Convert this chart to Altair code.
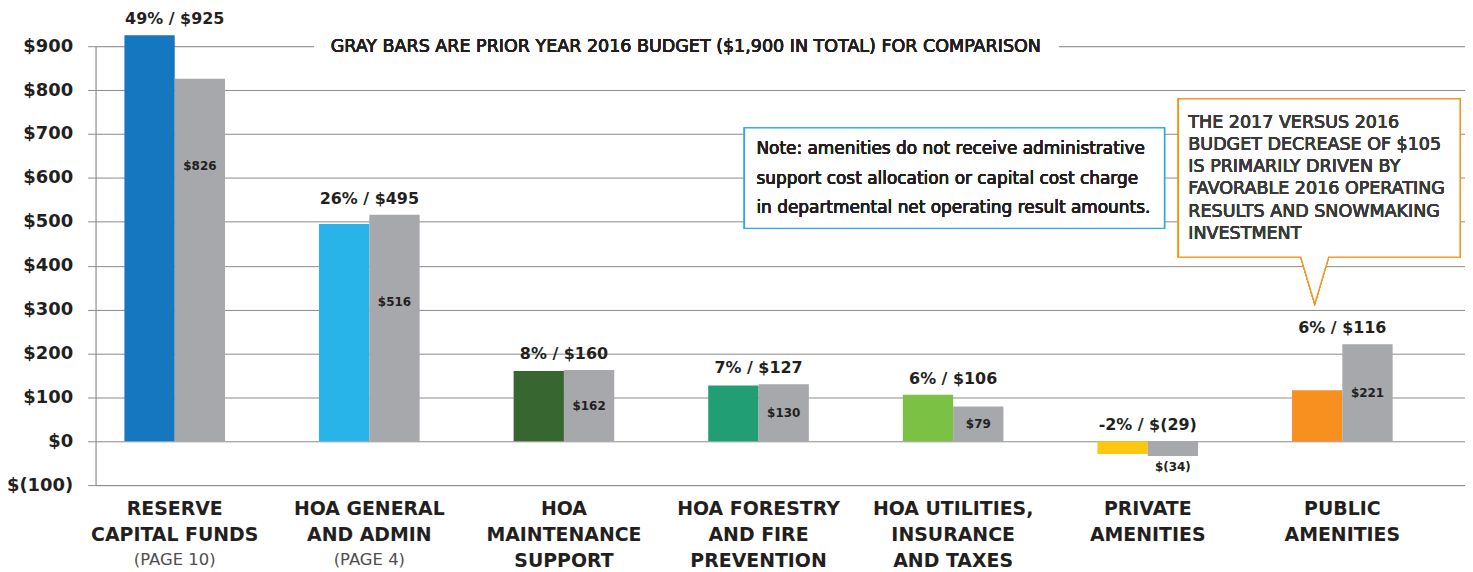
import altair as alt
import pandas as pd

# ---------------- data ----------------
categories = [
    "RESERVE\nCAPITAL FUNDS",
    "HOA GENERAL\nAND ADMIN",
    "HOA\nMAINTENANCE\nSUPPORT",
    "HOA FORESTRY\nAND FIRE\nPREVENTION",
    "HOA UTILITIES,\nINSURANCE\nAND TAXES",
    "PRIVATE\nAMENITIES",
    "PUBLIC\nAMENITIES",
]
page_refs = ["(PAGE 10)", "(PAGE 4)", "", "", "", "", ""]
budget_2017 = [925, 495, 160, 127, 106, -29, 116]
budget_2016 = [826, 516, 162, 130, 79, -34, 221]
share_2017 = [49, 26, 8, 7, 6, -2, 6]
colors_2017 = ["#1477bf", "#29b4e9", "#386630", "#229e74", "#7bc143", "#fdc70f", "#f7901e"]
color_2016 = "#a7a8ac"
y_ticks = list(range(-100, 1000, 100))

gray_note = "GRAY BARS ARE PRIOR YEAR 2016 BUDGET ($1,900 IN TOTAL) FOR COMPARISON"
note_lines = [
    "Note: amenities do not receive administrative",
    "support cost allocation or capital cost charge",
    "in departmental net operating result amounts.",
]
callout_lines = [
    "THE 2017 VERSUS 2016",
    "BUDGET DECREASE OF $105",
    "IS PRIMARILY DRIVEN BY",
    "FAVORABLE 2016 OPERATING",
    "RESULTS AND SNOWMAKING",
    "INVESTMENT",
]


def money(v):
    return f"${v}" if v >= 0 else f"$({-v})"


rows = []
for c, a, b, col in zip(categories, budget_2017, budget_2016, colors_2017):
    rows.append({"cat": c, "series": "2017", "value": a, "color": col})
    rows.append({"cat": c, "series": "2016", "value": b, "color": color_2016})
bars_df = pd.DataFrame(rows)

top_df = pd.DataFrame({
    "cat": categories,
    "label": [f"{s}% / {money(v)}" for s, v in zip(share_2017, budget_2017)],
    "top": [max(a, b, 0) for a, b in zip(budget_2017, budget_2016)],
    "ref": page_refs,
})
gray_df = pd.DataFrame({
    "cat": categories,
    "series": ["2016"] * len(categories),
    "value": budget_2016,
    "label": [money(v) for v in budget_2016],
})

INK = "#231f20"
GRID = "#8a8a8a"
BOLD_FONT = "DejaVu Sans"
BODY_FONT = "DejaVu Sans"
BODY_WEIGHT = "normal"

x_enc = alt.X(
    "cat:N",
    sort=categories,
    scale=alt.Scale(paddingInner=0.483, paddingOuter=0.26, align=0.285),
    axis=alt.Axis(
        title=None,
        labelExpr="split(datum.label, '\\n')",
        labelFont=BOLD_FONT,
        labelFontWeight="bold",
        labelFontSize=19,
        labelColor=INK,
        labelAngle=0,
        labelBaseline="alphabetic",
        labelLineHeight=26,
        labelPadding=30,
        labelLimit=400,
        labelOverlap=False,
        ticks=False,
        tickSize=0,
        domainColor=GRID,
        grid=False,
    ),
)
y_scale = alt.Scale(domain=[-100, 900], nice=False, zero=False)
xoff = alt.XOffset("series:N", sort=["2017", "2016"])

bars = alt.Chart(bars_df).mark_bar().encode(
    x=x_enc,
    xOffset=xoff,
    y=alt.Y(
        "value:Q",
        scale=y_scale,
        axis=alt.Axis(
            title=None,
            values=y_ticks,
            labelExpr="datum.value < 0 ? '$(' + abs(datum.value) + ')' : '$' + datum.value",
            labelFont=BOLD_FONT,
            labelFontWeight="bold",
            labelFontSize=18,
            labelColor=INK,
            labelPadding=15,
            tickSize=8,
            tickColor=GRID,
            domainColor=GRID,
            grid=True,
            gridColor=GRID,
            gridOpacity=1,
        ),
    ),
    y2=alt.datum(0),
    color=alt.Color("color:N", scale=None),
)

gray_labels = alt.Chart(gray_df).transform_calculate(
    pos="datum.value < 0 ? datum.value - 25 : max(datum.value / 2, datum.value - 200)"
).mark_text(font=BOLD_FONT, fontWeight="bold", fontSize=12, color=INK, baseline="middle").encode(
    x=alt.X("cat:N", sort=categories),
    xOffset=xoff,
    y=alt.Y("pos:Q", scale=y_scale),
    text="label:N",
)

top_labels = alt.Chart(top_df).mark_text(
    font=BOLD_FONT, fontWeight="bold", fontSize=16, color=INK, baseline="alphabetic", dy=-11
).encode(
    x=alt.X("cat:N", sort=categories),
    y=alt.Y("top:Q", scale=y_scale),
    text="label:N",
)

page_labels = alt.Chart(top_df).mark_text(
    font=BODY_FONT, fontWeight=BODY_WEIGHT, fontSize=16.5, color="#4d4d4f", baseline="alphabetic"
).encode(
    x=alt.X("cat:N", sort=categories),
    y=alt.value(521),
    text="ref:N",
)

# ---------------- annotations ----------------
gray_bg = alt.Chart(top_df).mark_rect(fill="white").encode(
    x=alt.value(220), x2=alt.value(968), y=alt.value(-9), y2=alt.value(9)
)
gray_text = alt.Chart(top_df).mark_text(
    text=gray_note, font=BODY_FONT, fontWeight=BODY_WEIGHT, fontSize=17.6, color=INK,
    align="center", baseline="middle", dy=1
).encode(x=alt.value(593), y=alt.value(0))

note_box = alt.Chart(top_df).mark_rect(fill="white", stroke="#29abe2", strokeWidth=1.3).encode(
    x=alt.value(652), x2=alt.value(1074), y=alt.value(82), y2=alt.value(183)
)
note_text = alt.Chart(top_df).mark_text(
    text=note_lines, font=BODY_FONT, fontWeight=BODY_WEIGHT, fontSize=17, color=INK, align="left",
    baseline="alphabetic", lineHeight=30
).encode(x=alt.value(664), y=alt.value(108))

call_box = alt.Chart(top_df).mark_rect(fill="white", stroke="#f7941d", strokeWidth=1.3).encode(
    x=alt.value(1088), x2=alt.value(1371), y=alt.value(53), y2=alt.value(212)
)
call_gap = alt.Chart(top_df).mark_rule(color="white", strokeWidth=3).encode(
    x=alt.value(1212), x2=alt.value(1238), y=alt.value(212), y2=alt.value(212)
)
call_pointer = alt.Chart(top_df).mark_point(
    shape="M -0.298 0 L 0 1 L 0.298 0", size=8836, filled=True, fill="white",
    stroke="#f7941d", strokeWidth=1.3, opacity=1
).encode(x=alt.value(1225), y=alt.value(212))
call_text = alt.Chart(top_df).mark_text(
    text=callout_lines, font=BODY_FONT, fontWeight=BODY_WEIGHT, fontSize=17.6, color="#3a3a3a",
    align="left", baseline="alphabetic", lineHeight=22.3
).encode(x=alt.value(1098), y=alt.value(82))

chart = alt.layer(
    bars, gray_labels, top_labels, page_labels,
    gray_bg, gray_text, note_box, note_text,
    call_box, call_gap, call_pointer, call_text,
).properties(
    width=1376,
    height=441,
    padding={"left": 88, "top": 37, "right": 0, "bottom": 95},
    autosize=alt.AutoSizeParams(type="none"),
).configure_view(stroke=None).configure(background="white")

chart.save("out.html", embed_options={"renderer": "svg", "actions": False})
